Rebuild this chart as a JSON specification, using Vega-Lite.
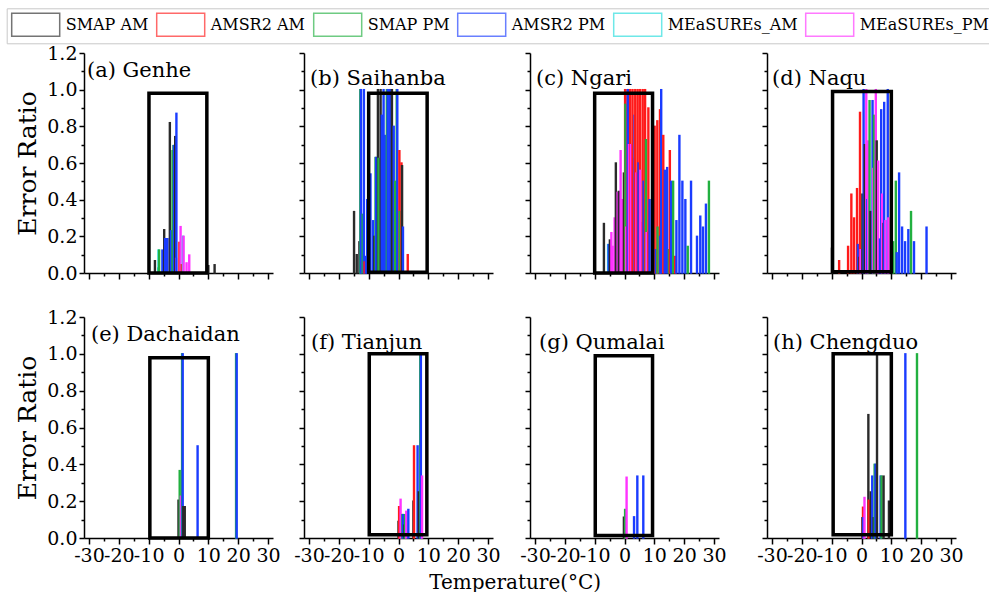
{
"$schema": "https://vega.github.io/schema/vega-lite/v6.json",
"padding": {"left": 6, "top": 7, "right": 0, "bottom": 0},
"datasets": {
"bars": [
{"panel":"a","temp":-7.9,"ratio":0.067,"series":"SMAP AM"},
{"panel":"a","temp":-6.8,"ratio":0.027,"series":"SMAP PM"},
{"panel":"a","temp":-6.7,"ratio":0.125,"series":"MEaSUREs_AM"},
{"panel":"a","temp":-6.5,"ratio":0.125,"series":"SMAP PM"},
{"panel":"a","temp":-5.4,"ratio":0.125,"series":"AMSR2 PM"},
{"panel":"a","temp":-4.8,"ratio":0.236,"series":"SMAP AM"},
{"panel":"a","temp":-4.5,"ratio":0.187,"series":"AMSR2 PM"},
{"panel":"a","temp":-4.1,"ratio":0.187,"series":"AMSR2 PM"},
{"panel":"a","temp":-3.7,"ratio":0.187,"series":"AMSR2 PM"},
{"panel":"a","temp":-2.9,"ratio":0.82,"series":"SMAP AM"},
{"panel":"a","temp":-2.5,"ratio":0.23,"series":"AMSR2 PM"},
{"panel":"a","temp":-2.0,"ratio":0.667,"series":"SMAP PM"},
{"panel":"a","temp":-1.7,"ratio":0.695,"series":"SMAP PM"},
{"panel":"a","temp":-1.5,"ratio":0.695,"series":"AMSR2 PM"},
{"panel":"a","temp":-1.1,"ratio":0.744,"series":"SMAP AM"},
{"panel":"a","temp":-0.8,"ratio":0.08,"series":"MEaSUREs_PM"},
{"panel":"a","temp":-0.7,"ratio":0.871,"series":"AMSR2 PM"},
{"panel":"a","temp":0.3,"ratio":0.167,"series":"AMSR2 AM"},
{"panel":"a","temp":0.7,"ratio":0.253,"series":"MEaSUREs_PM"},
{"panel":"a","temp":1.1,"ratio":0.045,"series":"AMSR2 AM"},
{"panel":"a","temp":1.5,"ratio":0.2,"series":"MEaSUREs_AM"},
{"panel":"a","temp":1.7,"ratio":0.2,"series":"MEaSUREs_PM"},
{"panel":"a","temp":2.7,"ratio":0.055,"series":"MEaSUREs_PM"},
{"panel":"a","temp":3.6,"ratio":0.098,"series":"MEaSUREs_PM"},
{"panel":"a","temp":10.0,"ratio":0.04,"series":"SMAP AM"},
{"panel":"a","temp":12.1,"ratio":0.045,"series":"SMAP AM"},
{"panel":"b","temp":-14.9,"ratio":0.335,"series":"SMAP AM"},
{"panel":"b","temp":-14.0,"ratio":0.1,"series":"SMAP AM"},
{"panel":"b","temp":-13.1,"ratio":0.17,"series":"SMAP AM"},
{"panel":"b","temp":-12.8,"ratio":1.0,"series":"SMAP PM"},
{"panel":"b","temp":-12.6,"ratio":1.0,"series":"AMSR2 PM"},
{"panel":"b","temp":-12.0,"ratio":0.32,"series":"SMAP PM"},
{"panel":"b","temp":-11.6,"ratio":1.0,"series":"AMSR2 PM"},
{"panel":"b","temp":-11.4,"ratio":0.06,"series":"AMSR2 AM"},
{"panel":"b","temp":-10.9,"ratio":0.09,"series":"AMSR2 PM"},
{"panel":"b","temp":-10.5,"ratio":0.4,"series":"AMSR2 PM"},
{"panel":"b","temp":-9.4,"ratio":0.54,"series":"AMSR2 PM"},
{"panel":"b","temp":-8.5,"ratio":0.285,"series":"AMSR2 PM"},
{"panel":"b","temp":-8.1,"ratio":0.2,"series":"SMAP AM"},
{"panel":"b","temp":-7.7,"ratio":0.63,"series":"SMAP PM"},
{"panel":"b","temp":-7.5,"ratio":0.63,"series":"AMSR2 PM"},
{"panel":"b","temp":-6.9,"ratio":1.0,"series":"SMAP AM"},
{"panel":"b","temp":-6.7,"ratio":0.625,"series":"SMAP PM"},
{"panel":"b","temp":-6.0,"ratio":1.0,"series":"SMAP AM"},
{"panel":"b","temp":-5.6,"ratio":0.86,"series":"AMSR2 PM"},
{"panel":"b","temp":-5.0,"ratio":1.0,"series":"AMSR2 PM"},
{"panel":"b","temp":-4.5,"ratio":0.75,"series":"AMSR2 PM"},
{"panel":"b","temp":-3.9,"ratio":1.0,"series":"SMAP PM"},
{"panel":"b","temp":-3.6,"ratio":1.0,"series":"AMSR2 PM"},
{"panel":"b","temp":-2.9,"ratio":1.0,"series":"AMSR2 PM"},
{"panel":"b","temp":-2.2,"ratio":1.0,"series":"SMAP AM"},
{"panel":"b","temp":-1.6,"ratio":0.8,"series":"AMSR2 PM"},
{"panel":"b","temp":-1.1,"ratio":0.5,"series":"SMAP PM"},
{"panel":"b","temp":-0.6,"ratio":1.0,"series":"SMAP PM"},
{"panel":"b","temp":-0.4,"ratio":1.0,"series":"AMSR2 PM"},
{"panel":"b","temp":0.3,"ratio":0.667,"series":"AMSR2 AM"},
{"panel":"b","temp":0.4,"ratio":0.335,"series":"SMAP PM"},
{"panel":"b","temp":1.0,"ratio":0.6,"series":"AMSR2 AM"},
{"panel":"b","temp":1.2,"ratio":0.585,"series":"SMAP AM"},
{"panel":"b","temp":1.5,"ratio":0.25,"series":"AMSR2 PM"},
{"panel":"b","temp":3.1,"ratio":0.1,"series":"AMSR2 AM"},
{"panel":"c","temp":-6.9,"ratio":0.27,"series":"SMAP AM"},
{"panel":"c","temp":-5.5,"ratio":0.155,"series":"MEaSUREs_AM"},
{"panel":"c","temp":-5.3,"ratio":0.155,"series":"AMSR2 PM"},
{"panel":"c","temp":-4.9,"ratio":0.18,"series":"SMAP AM"},
{"panel":"c","temp":-4.4,"ratio":0.22,"series":"MEaSUREs_PM"},
{"panel":"c","temp":-4.0,"ratio":0.145,"series":"MEaSUREs_PM"},
{"panel":"c","temp":-3.3,"ratio":0.3,"series":"MEaSUREs_PM"},
{"panel":"c","temp":-2.9,"ratio":0.6,"series":"SMAP AM"},
{"panel":"c","temp":-2.3,"ratio":0.44,"series":"MEaSUREs_PM"},
{"panel":"c","temp":-1.9,"ratio":0.445,"series":"SMAP AM"},
{"panel":"c","temp":-1.3,"ratio":0.667,"series":"MEaSUREs_PM"},
{"panel":"c","temp":-0.9,"ratio":0.4,"series":"MEaSUREs_PM"},
{"panel":"c","temp":-0.2,"ratio":0.545,"series":"SMAP AM"},
{"panel":"c","temp":0.2,"ratio":1.0,"series":"AMSR2 AM"},
{"panel":"c","temp":0.3,"ratio":0.92,"series":"SMAP PM"},
{"panel":"c","temp":0.6,"ratio":0.25,"series":"MEaSUREs_PM"},
{"panel":"c","temp":1.0,"ratio":1.0,"series":"AMSR2 AM"},
{"panel":"c","temp":1.1,"ratio":1.0,"series":"AMSR2 PM"},
{"panel":"c","temp":1.5,"ratio":0.7,"series":"MEaSUREs_PM"},
{"panel":"c","temp":1.9,"ratio":1.0,"series":"AMSR2 AM"},
{"panel":"c","temp":2.1,"ratio":0.7,"series":"MEaSUREs_PM"},
{"panel":"c","temp":2.6,"ratio":0.625,"series":"MEaSUREs_PM"},
{"panel":"c","temp":2.7,"ratio":1.0,"series":"AMSR2 AM"},
{"panel":"c","temp":3.4,"ratio":0.86,"series":"AMSR2 PM"},
{"panel":"c","temp":3.6,"ratio":1.0,"series":"AMSR2 AM"},
{"panel":"c","temp":4.0,"ratio":0.545,"series":"MEaSUREs_PM"},
{"panel":"c","temp":4.4,"ratio":1.0,"series":"AMSR2 AM"},
{"panel":"c","temp":4.7,"ratio":0.6,"series":"AMSR2 PM"},
{"panel":"c","temp":5.2,"ratio":1.0,"series":"AMSR2 AM"},
{"panel":"c","temp":5.3,"ratio":0.56,"series":"MEaSUREs_PM"},
{"panel":"c","temp":6.0,"ratio":0.275,"series":"MEaSUREs_PM"},
{"panel":"c","temp":6.1,"ratio":1.0,"series":"AMSR2 AM"},
{"panel":"c","temp":6.4,"ratio":0.5,"series":"AMSR2 PM"},
{"panel":"c","temp":6.9,"ratio":1.0,"series":"AMSR2 AM"},
{"panel":"c","temp":7.2,"ratio":0.727,"series":"SMAP PM"},
{"panel":"c","temp":7.4,"ratio":0.22,"series":"MEaSUREs_PM"},
{"panel":"c","temp":8.0,"ratio":0.9,"series":"AMSR2 AM"},
{"panel":"c","temp":8.4,"ratio":0.4,"series":"AMSR2 PM"},
{"panel":"c","temp":10.1,"ratio":0.8,"series":"AMSR2 AM"},
{"panel":"c","temp":10.5,"ratio":0.127,"series":"AMSR2 PM"},
{"panel":"c","temp":11.0,"ratio":0.83,"series":"AMSR2 AM"},
{"panel":"c","temp":11.1,"ratio":0.25,"series":"SMAP PM"},
{"panel":"c","temp":11.9,"ratio":0.89,"series":"AMSR2 AM"},
{"panel":"c","temp":12.0,"ratio":0.2,"series":"AMSR2 PM"},
{"panel":"c","temp":12.3,"ratio":1.0,"series":"AMSR2 PM"},
{"panel":"c","temp":13.0,"ratio":0.75,"series":"AMSR2 AM"},
{"panel":"c","temp":13.5,"ratio":0.56,"series":"AMSR2 PM"},
{"panel":"c","temp":14.3,"ratio":0.575,"series":"AMSR2 PM"},
{"panel":"c","temp":14.9,"ratio":0.127,"series":"SMAP PM"},
{"panel":"c","temp":15.2,"ratio":0.667,"series":"AMSR2 AM"},
{"panel":"c","temp":15.6,"ratio":0.5,"series":"AMSR2 PM"},
{"panel":"c","temp":16.3,"ratio":0.5,"series":"SMAP PM"},
{"panel":"c","temp":17.0,"ratio":0.09,"series":"AMSR2 AM"},
{"panel":"c","temp":17.4,"ratio":0.285,"series":"AMSR2 PM"},
{"panel":"c","temp":18.4,"ratio":0.75,"series":"AMSR2 PM"},
{"panel":"c","temp":19.4,"ratio":0.5,"series":"AMSR2 PM"},
{"panel":"c","temp":20.4,"ratio":0.4,"series":"AMSR2 PM"},
{"panel":"c","temp":21.2,"ratio":0.145,"series":"SMAP PM"},
{"panel":"c","temp":22.3,"ratio":0.5,"series":"AMSR2 PM"},
{"panel":"c","temp":24.3,"ratio":0.2,"series":"AMSR2 PM"},
{"panel":"c","temp":25.4,"ratio":0.31,"series":"AMSR2 PM"},
{"panel":"c","temp":26.3,"ratio":0.25,"series":"AMSR2 PM"},
{"panel":"c","temp":27.3,"ratio":0.375,"series":"AMSR2 PM"},
{"panel":"c","temp":28.3,"ratio":0.5,"series":"SMAP PM"},
{"panel":"d","temp":-9.9,"ratio":0.135,"series":"SMAP AM"},
{"panel":"d","temp":-7.5,"ratio":0.067,"series":"AMSR2 AM"},
{"panel":"d","temp":-4.5,"ratio":0.145,"series":"AMSR2 AM"},
{"panel":"d","temp":-3.4,"ratio":0.43,"series":"AMSR2 AM"},
{"panel":"d","temp":-2.5,"ratio":0.3,"series":"AMSR2 AM"},
{"panel":"d","temp":-1.5,"ratio":0.46,"series":"AMSR2 AM"},
{"panel":"d","temp":-1.2,"ratio":0.155,"series":"AMSR2 PM"},
{"panel":"d","temp":-0.7,"ratio":0.085,"series":"SMAP AM"},
{"panel":"d","temp":-0.5,"ratio":0.876,"series":"AMSR2 AM"},
{"panel":"d","temp":-0.3,"ratio":0.127,"series":"MEaSUREs_PM"},
{"panel":"d","temp":0.3,"ratio":0.43,"series":"SMAP AM"},
{"panel":"d","temp":0.7,"ratio":1.0,"series":"AMSR2 PM"},
{"panel":"d","temp":1.1,"ratio":0.7,"series":"SMAP AM"},
{"panel":"d","temp":1.6,"ratio":1.0,"series":"MEaSUREs_PM"},
{"panel":"d","temp":1.9,"ratio":0.4,"series":"AMSR2 PM"},
{"panel":"d","temp":2.2,"ratio":0.72,"series":"MEaSUREs_PM"},
{"panel":"d","temp":2.7,"ratio":0.94,"series":"SMAP PM"},
{"panel":"d","temp":3.0,"ratio":0.335,"series":"SMAP AM"},
{"panel":"d","temp":3.7,"ratio":0.94,"series":"AMSR2 PM"},
{"panel":"d","temp":3.9,"ratio":0.57,"series":"MEaSUREs_PM"},
{"panel":"d","temp":4.2,"ratio":0.86,"series":"SMAP PM"},
{"panel":"d","temp":4.4,"ratio":0.5,"series":"SMAP PM"},
{"panel":"d","temp":4.8,"ratio":1.0,"series":"MEaSUREs_PM"},
{"panel":"d","temp":5.1,"ratio":0.72,"series":"SMAP AM"},
{"panel":"d","temp":5.6,"ratio":0.61,"series":"MEaSUREs_PM"},
{"panel":"d","temp":6.2,"ratio":0.185,"series":"AMSR2 PM"},
{"panel":"d","temp":6.6,"ratio":0.89,"series":"AMSR2 PM"},
{"panel":"d","temp":6.9,"ratio":0.43,"series":"MEaSUREs_PM"},
{"panel":"d","temp":7.4,"ratio":0.27,"series":"SMAP AM"},
{"panel":"d","temp":7.6,"ratio":0.93,"series":"AMSR2 PM"},
{"panel":"d","temp":8.0,"ratio":0.285,"series":"MEaSUREs_PM"},
{"panel":"d","temp":8.8,"ratio":1.0,"series":"AMSR2 PM"},
{"panel":"d","temp":9.0,"ratio":0.3,"series":"MEaSUREs_PM"},
{"panel":"d","temp":10.6,"ratio":0.17,"series":"SMAP PM"},
{"panel":"d","temp":11.5,"ratio":0.5,"series":"SMAP PM"},
{"panel":"d","temp":11.8,"ratio":0.11,"series":"AMSR2 PM"},
{"panel":"d","temp":12.6,"ratio":0.545,"series":"AMSR2 PM"},
{"panel":"d","temp":13.6,"ratio":0.25,"series":"AMSR2 PM"},
{"panel":"d","temp":14.6,"ratio":0.17,"series":"AMSR2 PM"},
{"panel":"d","temp":15.7,"ratio":0.236,"series":"AMSR2 PM"},
{"panel":"d","temp":16.6,"ratio":0.335,"series":"SMAP PM"},
{"panel":"d","temp":17.6,"ratio":0.17,"series":"AMSR2 PM"},
{"panel":"d","temp":21.8,"ratio":0.25,"series":"AMSR2 PM"},
{"panel":"e","temp":0.0,"ratio":0.205,"series":"SMAP AM"},
{"panel":"e","temp":0.4,"ratio":0.366,"series":"SMAP PM"},
{"panel":"e","temp":0.8,"ratio":0.227,"series":"MEaSUREs_PM"},
{"panel":"e","temp":1.2,"ratio":1.0,"series":"SMAP PM"},
{"panel":"e","temp":1.4,"ratio":1.0,"series":"AMSR2 PM"},
{"panel":"e","temp":1.6,"ratio":0.17,"series":"SMAP AM"},
{"panel":"e","temp":2.1,"ratio":0.17,"series":"SMAP AM"},
{"panel":"e","temp":6.4,"ratio":0.5,"series":"AMSR2 PM"},
{"panel":"e","temp":19.3,"ratio":1.0,"series":"SMAP PM"},
{"panel":"e","temp":19.5,"ratio":1.0,"series":"AMSR2 PM"},
{"panel":"f","temp":0.0,"ratio":0.09,"series":"SMAP AM"},
{"panel":"f","temp":0.2,"ratio":0.17,"series":"AMSR2 AM"},
{"panel":"f","temp":0.7,"ratio":0.21,"series":"MEaSUREs_PM"},
{"panel":"f","temp":1.3,"ratio":0.127,"series":"SMAP PM"},
{"panel":"f","temp":1.5,"ratio":0.127,"series":"AMSR2 PM"},
{"panel":"f","temp":2.0,"ratio":0.07,"series":"SMAP AM"},
{"panel":"f","temp":2.2,"ratio":0.127,"series":"SMAP PM"},
{"panel":"f","temp":2.6,"ratio":0.145,"series":"MEaSUREs_PM"},
{"panel":"f","temp":3.3,"ratio":0.155,"series":"AMSR2 PM"},
{"panel":"f","temp":5.0,"ratio":0.2,"series":"SMAP AM"},
{"panel":"f","temp":5.2,"ratio":0.5,"series":"AMSR2 AM"},
{"panel":"f","temp":6.4,"ratio":0.5,"series":"AMSR2 PM"},
{"panel":"f","temp":6.8,"ratio":0.25,"series":"SMAP AM"},
{"panel":"f","temp":7.3,"ratio":1.0,"series":"SMAP PM"},
{"panel":"f","temp":7.5,"ratio":1.0,"series":"AMSR2 PM"},
{"panel":"f","temp":7.9,"ratio":0.336,"series":"MEaSUREs_PM"},
{"panel":"g","temp":-0.2,"ratio":0.113,"series":"SMAP AM"},
{"panel":"g","temp":0.2,"ratio":0.155,"series":"SMAP PM"},
{"panel":"g","temp":0.7,"ratio":0.33,"series":"MEaSUREs_PM"},
{"panel":"g","temp":3.2,"ratio":0.115,"series":"AMSR2 PM"},
{"panel":"g","temp":4.3,"ratio":0.336,"series":"AMSR2 PM"},
{"panel":"g","temp":6.3,"ratio":0.336,"series":"AMSR2 PM"},
{"panel":"h","temp":0.3,"ratio":0.11,"series":"SMAP AM"},
{"panel":"h","temp":0.5,"ratio":0.167,"series":"AMSR2 AM"},
{"panel":"h","temp":0.6,"ratio":0.11,"series":"AMSR2 PM"},
{"panel":"h","temp":1.0,"ratio":0.22,"series":"MEaSUREs_PM"},
{"panel":"h","temp":2.3,"ratio":0.67,"series":"SMAP AM"},
{"panel":"h","temp":2.4,"ratio":0.205,"series":"AMSR2 AM"},
{"panel":"h","temp":3.1,"ratio":0.25,"series":"SMAP AM"},
{"panel":"h","temp":3.6,"ratio":0.336,"series":"AMSR2 PM"},
{"panel":"h","temp":4.1,"ratio":0.11,"series":"SMAP AM"},
{"panel":"h","temp":4.4,"ratio":0.4,"series":"SMAP PM"},
{"panel":"h","temp":4.7,"ratio":0.4,"series":"AMSR2 PM"},
{"panel":"h","temp":5.2,"ratio":1.0,"series":"SMAP AM"},
{"panel":"h","temp":6.4,"ratio":0.336,"series":"AMSR2 PM"},
{"panel":"h","temp":6.7,"ratio":0.336,"series":"SMAP PM"},
{"panel":"h","temp":7.4,"ratio":0.336,"series":"SMAP AM"},
{"panel":"h","temp":9.2,"ratio":0.2,"series":"SMAP AM"},
{"panel":"h","temp":14.7,"ratio":1.0,"series":"AMSR2 PM"},
{"panel":"h","temp":18.6,"ratio":1.0,"series":"SMAP PM"}
],
"boxes": [
{"panel":"a","x1":-9.9,"x2":9.5,"y1":0,"y2":0.98},
{"panel":"b","x1":-10.0,"x2":9.6,"y1":0.004,"y2":0.98},
{"panel":"c","x1":-10.0,"x2":9.4,"y1":0,"y2":0.98},
{"panel":"d","x1":-9.7,"x2":10.0,"y1":0.007,"y2":0.99},
{"panel":"e","x1":-9.6,"x2":10.0,"y1":0,"y2":0.979},
{"panel":"f","x1":-9.8,"x2":9.5,"y1":0.018,"y2":1.0},
{"panel":"g","x1":-9.8,"x2":9.4,"y1":0.013,"y2":0.99},
{"panel":"h","x1":-9.5,"x2":10.0,"y1":0.018,"y2":1.0}
]
},
"columns": 4,
"align": "each",
"bounds": "flush",
"spacing": {"row": 44, "column": 31},
"concat": [
  {"width":189,"height":220,
   "title":{"text":"(a) Genhe","anchor":"start","frame":"group","offset":0,"dy":54,"dx":3,"baseline":"alphabetic"},
   "layer":[
    {"data":{"name":"bars"},"transform":[{"filter":"datum.panel === 'a'"}],
     "mark":{"type":"bar","size":1,"orient":"vertical","filled":false,"strokeWidth":1.4},
     "encoding":{
      "x":{"field":"temp","type":"quantitative","scale":{"domain":[-30,30],"range":[0,189],"nice":false,"zero":false},
        "axis":{"values":[-30,-25,-20,-15,-10,-5,0,5,10,15,20,25,30],"labels":false,"title":null,"tickSize":{"condition":{"test":"datum.value % 10 !== 0","value":3},"value":6}}},
      "y":{"field":"ratio","type":"quantitative","stack":null,"scale":{"domain":[0,1.2],"nice":false},
        "axis":{"values":[0,0.1,0.2,0.3,0.4,0.5,0.6,0.7,0.8,0.9,1,1.1,1.2],"labelExpr":"round(datum.value*10) % 2 === 0 ? format(datum.value, '.1f') : ''","title":"Error Ratio","titleX":-57,"titleY":110,"titleAngle":-90,"titleAlign":"center","titleBaseline":"middle","tickSize":{"condition":{"test":"round(datum.value*10) % 2 !== 0","value":3},"value":5}}},
      "color":{"field":"series","type":"nominal","scale":{"domain":["SMAP AM","AMSR2 AM","SMAP PM","AMSR2 PM","MEaSUREs_AM","MEaSUREs_PM"],"range":["#2a2a2a","#ff1a1a","#22b040","#1a3cff","#22dddd","#ff33ff"]},"legend":{"title":null}}
     }},
    {"data":{"name":"boxes"},"transform":[{"filter":"datum.panel === 'a'"}],
     "mark":{"type":"rect","fill":"transparent","stroke":"black","strokeWidth":3.5},
     "encoding":{
      "x":{"field":"x1","type":"quantitative","axis":{"values":[-30,-25,-20,-15,-10,-5,0,5,10,15,20,25,30],"labels":false,"title":null,"tickSize":{"condition":{"test":"datum.value % 10 !== 0","value":3},"value":6}}},
      "x2":{"field":"x2"},
      "y":{"field":"y1","type":"quantitative","axis":{"values":[0,0.1,0.2,0.3,0.4,0.5,0.6,0.7,0.8,0.9,1,1.1,1.2],"labelExpr":"round(datum.value*10) % 2 === 0 ? format(datum.value, '.1f') : ''","title":"Error Ratio","titleX":-57,"titleY":110,"titleAngle":-90,"titleAlign":"center","titleBaseline":"middle","tickSize":{"condition":{"test":"round(datum.value*10) % 2 !== 0","value":3},"value":5}}},
      "y2":{"field":"y2"}}}
   ]},
  {"width":195,"height":220,
   "title":{"text":"(b) Saihanba","anchor":"start","frame":"group","offset":0,"dy":54,"dx":6,"baseline":"alphabetic"},
   "layer":[
    {"data":{"name":"bars"},"transform":[{"filter":"datum.panel === 'b'"}],
     "mark":{"type":"bar","size":1,"orient":"vertical","filled":false,"strokeWidth":1.4},
     "encoding":{
      "x":{"field":"temp","type":"quantitative","scale":{"domain":[-30,30],"range":[0,189],"nice":false,"zero":false},
        "axis":{"values":[-30,-25,-20,-15,-10,-5,0,5,10,15,20,25,30],"labels":false,"title":null,"tickSize":{"condition":{"test":"datum.value % 10 !== 0","value":3},"value":6}}},
      "y":{"field":"ratio","type":"quantitative","stack":null,"scale":{"domain":[0,1.2],"nice":false},
        "axis":{"values":[0,0.1,0.2,0.3,0.4,0.5,0.6,0.7,0.8,0.9,1,1.1,1.2],"labels":false,"title":null,"tickSize":{"condition":{"test":"round(datum.value*10) % 2 !== 0","value":3},"value":5}}},
      "color":{"field":"series","type":"nominal","scale":{"domain":["SMAP AM","AMSR2 AM","SMAP PM","AMSR2 PM","MEaSUREs_AM","MEaSUREs_PM"],"range":["#2a2a2a","#ff1a1a","#22b040","#1a3cff","#22dddd","#ff33ff"]},"legend":{"title":null}}
     }},
    {"data":{"name":"boxes"},"transform":[{"filter":"datum.panel === 'b'"}],
     "mark":{"type":"rect","fill":"transparent","stroke":"black","strokeWidth":3.5},
     "encoding":{
      "x":{"field":"x1","type":"quantitative","axis":{"values":[-30,-25,-20,-15,-10,-5,0,5,10,15,20,25,30],"labels":false,"title":null,"tickSize":{"condition":{"test":"datum.value % 10 !== 0","value":3},"value":6}}},
      "x2":{"field":"x2"},
      "y":{"field":"y1","type":"quantitative","axis":{"values":[0,0.1,0.2,0.3,0.4,0.5,0.6,0.7,0.8,0.9,1,1.1,1.2],"labels":false,"title":null,"tickSize":{"condition":{"test":"round(datum.value*10) % 2 !== 0","value":3},"value":5}}},
      "y2":{"field":"y2"}}}
   ]},
  {"width":205.7,"height":220,
   "title":{"text":"(c) Ngari","anchor":"start","frame":"group","offset":0,"dy":54,"dx":6,"baseline":"alphabetic"},
   "layer":[
    {"data":{"name":"bars"},"transform":[{"filter":"datum.panel === 'c'"}],
     "mark":{"type":"bar","size":1,"orient":"vertical","filled":false,"strokeWidth":1.4},
     "encoding":{
      "x":{"field":"temp","type":"quantitative","scale":{"domain":[-30,30],"range":[0,189],"nice":false,"zero":false},
        "axis":{"values":[-30,-25,-20,-15,-10,-5,0,5,10,15,20,25,30],"labels":false,"title":null,"tickSize":{"condition":{"test":"datum.value % 10 !== 0","value":3},"value":6}}},
      "y":{"field":"ratio","type":"quantitative","stack":null,"scale":{"domain":[0,1.2],"nice":false},
        "axis":{"values":[0,0.1,0.2,0.3,0.4,0.5,0.6,0.7,0.8,0.9,1,1.1,1.2],"labels":false,"title":null,"tickSize":{"condition":{"test":"round(datum.value*10) % 2 !== 0","value":3},"value":5}}},
      "color":{"field":"series","type":"nominal","scale":{"domain":["SMAP AM","AMSR2 AM","SMAP PM","AMSR2 PM","MEaSUREs_AM","MEaSUREs_PM"],"range":["#2a2a2a","#ff1a1a","#22b040","#1a3cff","#22dddd","#ff33ff"]},"legend":{"title":null}}
     }},
    {"data":{"name":"boxes"},"transform":[{"filter":"datum.panel === 'c'"}],
     "mark":{"type":"rect","fill":"transparent","stroke":"black","strokeWidth":3.5},
     "encoding":{
      "x":{"field":"x1","type":"quantitative","axis":{"values":[-30,-25,-20,-15,-10,-5,0,5,10,15,20,25,30],"labels":false,"title":null,"tickSize":{"condition":{"test":"datum.value % 10 !== 0","value":3},"value":6}}},
      "x2":{"field":"x2"},
      "y":{"field":"y1","type":"quantitative","axis":{"values":[0,0.1,0.2,0.3,0.4,0.5,0.6,0.7,0.8,0.9,1,1.1,1.2],"labels":false,"title":null,"tickSize":{"condition":{"test":"round(datum.value*10) % 2 !== 0","value":3},"value":5}}},
      "y2":{"field":"y2"}}}
   ]},
  {"width":189,"height":220,
   "title":{"text":"(d) Naqu","anchor":"start","frame":"group","offset":0,"dy":54,"dx":5,"baseline":"alphabetic"},
   "layer":[
    {"data":{"name":"bars"},"transform":[{"filter":"datum.panel === 'd'"}],
     "mark":{"type":"bar","size":1,"orient":"vertical","filled":false,"strokeWidth":1.4},
     "encoding":{
      "x":{"field":"temp","type":"quantitative","scale":{"domain":[-30,30],"range":[0,189],"nice":false,"zero":false},
        "axis":{"values":[-30,-25,-20,-15,-10,-5,0,5,10,15,20,25,30],"labels":false,"title":null,"tickSize":{"condition":{"test":"datum.value % 10 !== 0","value":3},"value":6}}},
      "y":{"field":"ratio","type":"quantitative","stack":null,"scale":{"domain":[0,1.2],"nice":false},
        "axis":{"values":[0,0.1,0.2,0.3,0.4,0.5,0.6,0.7,0.8,0.9,1,1.1,1.2],"labels":false,"title":null,"tickSize":{"condition":{"test":"round(datum.value*10) % 2 !== 0","value":3},"value":5}}},
      "color":{"field":"series","type":"nominal","scale":{"domain":["SMAP AM","AMSR2 AM","SMAP PM","AMSR2 PM","MEaSUREs_AM","MEaSUREs_PM"],"range":["#2a2a2a","#ff1a1a","#22b040","#1a3cff","#22dddd","#ff33ff"]},"legend":{"title":null}}
     }},
    {"data":{"name":"boxes"},"transform":[{"filter":"datum.panel === 'd'"}],
     "mark":{"type":"rect","fill":"transparent","stroke":"black","strokeWidth":3.5},
     "encoding":{
      "x":{"field":"x1","type":"quantitative","axis":{"values":[-30,-25,-20,-15,-10,-5,0,5,10,15,20,25,30],"labels":false,"title":null,"tickSize":{"condition":{"test":"datum.value % 10 !== 0","value":3},"value":6}}},
      "x2":{"field":"x2"},
      "y":{"field":"y1","type":"quantitative","axis":{"values":[0,0.1,0.2,0.3,0.4,0.5,0.6,0.7,0.8,0.9,1,1.1,1.2],"labels":false,"title":null,"tickSize":{"condition":{"test":"round(datum.value*10) % 2 !== 0","value":3},"value":5}}},
      "y2":{"field":"y2"}}}
   ]},
  {"width":189,"height":221,
   "title":{"text":"(e) Dachaidan","anchor":"start","frame":"group","offset":0,"dy":54,"dx":7,"baseline":"alphabetic"},
   "layer":[
    {"data":{"name":"bars"},"transform":[{"filter":"datum.panel === 'e'"}],
     "mark":{"type":"bar","size":1,"orient":"vertical","filled":false,"strokeWidth":1.4},
     "encoding":{
      "x":{"field":"temp","type":"quantitative","scale":{"domain":[-30,30],"range":[0,189],"nice":false,"zero":false},
        "axis":{"values":[-30,-25,-20,-15,-10,-5,0,5,10,15,20,25,30],"labelExpr":"datum.value % 10 === 0 ? (datum.value < 0 ? '-' + (-datum.value) : '' + datum.value) : ''","title":null,"tickSize":{"condition":{"test":"datum.value % 10 !== 0","value":3},"value":6}}},
      "y":{"field":"ratio","type":"quantitative","stack":null,"scale":{"domain":[0,1.2],"nice":false},
        "axis":{"values":[0,0.1,0.2,0.3,0.4,0.5,0.6,0.7,0.8,0.9,1,1.1,1.2],"labelExpr":"round(datum.value*10) % 2 === 0 ? format(datum.value, '.1f') : ''","title":"Error Ratio","titleX":-57,"titleY":110.5,"titleAngle":-90,"titleAlign":"center","titleBaseline":"middle","tickSize":{"condition":{"test":"round(datum.value*10) % 2 !== 0","value":3},"value":5}}},
      "color":{"field":"series","type":"nominal","scale":{"domain":["SMAP AM","AMSR2 AM","SMAP PM","AMSR2 PM","MEaSUREs_AM","MEaSUREs_PM"],"range":["#2a2a2a","#ff1a1a","#22b040","#1a3cff","#22dddd","#ff33ff"]},"legend":{"title":null}}
     }},
    {"data":{"name":"boxes"},"transform":[{"filter":"datum.panel === 'e'"}],
     "mark":{"type":"rect","fill":"transparent","stroke":"black","strokeWidth":3.5},
     "encoding":{
      "x":{"field":"x1","type":"quantitative","axis":{"values":[-30,-25,-20,-15,-10,-5,0,5,10,15,20,25,30],"labelExpr":"datum.value % 10 === 0 ? (datum.value < 0 ? '-' + (-datum.value) : '' + datum.value) : ''","title":null,"tickSize":{"condition":{"test":"datum.value % 10 !== 0","value":3},"value":6}}},
      "x2":{"field":"x2"},
      "y":{"field":"y1","type":"quantitative","axis":{"values":[0,0.1,0.2,0.3,0.4,0.5,0.6,0.7,0.8,0.9,1,1.1,1.2],"labelExpr":"round(datum.value*10) % 2 === 0 ? format(datum.value, '.1f') : ''","title":"Error Ratio","titleX":-57,"titleY":110.5,"titleAngle":-90,"titleAlign":"center","titleBaseline":"middle","tickSize":{"condition":{"test":"round(datum.value*10) % 2 !== 0","value":3},"value":5}}},
      "y2":{"field":"y2"}}}
   ]},
  {"width":195,"height":221,
   "title":{"text":"(f) Tianjun","anchor":"start","frame":"group","offset":0,"dy":54,"dx":7,"baseline":"alphabetic"},
   "layer":[
    {"data":{"name":"bars"},"transform":[{"filter":"datum.panel === 'f'"}],
     "mark":{"type":"bar","size":1,"orient":"vertical","filled":false,"strokeWidth":1.4},
     "encoding":{
      "x":{"field":"temp","type":"quantitative","scale":{"domain":[-30,30],"range":[0,189],"nice":false,"zero":false},
        "axis":{"values":[-30,-25,-20,-15,-10,-5,0,5,10,15,20,25,30],"labelExpr":"datum.value % 10 === 0 ? (datum.value < 0 ? '-' + (-datum.value) : '' + datum.value) : ''","title":"Temperature(°C)","titleFontSize":20,"titleX":210.7,"titleY":50,"titleAlign":"center","titleBaseline":"alphabetic","tickSize":{"condition":{"test":"datum.value % 10 !== 0","value":3},"value":6}}},
      "y":{"field":"ratio","type":"quantitative","stack":null,"scale":{"domain":[0,1.2],"nice":false},
        "axis":{"values":[0,0.1,0.2,0.3,0.4,0.5,0.6,0.7,0.8,0.9,1,1.1,1.2],"labels":false,"title":null,"tickSize":{"condition":{"test":"round(datum.value*10) % 2 !== 0","value":3},"value":5}}},
      "color":{"field":"series","type":"nominal","scale":{"domain":["SMAP AM","AMSR2 AM","SMAP PM","AMSR2 PM","MEaSUREs_AM","MEaSUREs_PM"],"range":["#2a2a2a","#ff1a1a","#22b040","#1a3cff","#22dddd","#ff33ff"]},"legend":{"title":null}}
     }},
    {"data":{"name":"boxes"},"transform":[{"filter":"datum.panel === 'f'"}],
     "mark":{"type":"rect","fill":"transparent","stroke":"black","strokeWidth":3.5},
     "encoding":{
      "x":{"field":"x1","type":"quantitative","axis":{"values":[-30,-25,-20,-15,-10,-5,0,5,10,15,20,25,30],"labelExpr":"datum.value % 10 === 0 ? (datum.value < 0 ? '-' + (-datum.value) : '' + datum.value) : ''","title":"Temperature(°C)","titleFontSize":20,"titleX":210.7,"titleY":50,"titleAlign":"center","titleBaseline":"alphabetic","tickSize":{"condition":{"test":"datum.value % 10 !== 0","value":3},"value":6}}},
      "x2":{"field":"x2"},
      "y":{"field":"y1","type":"quantitative","axis":{"values":[0,0.1,0.2,0.3,0.4,0.5,0.6,0.7,0.8,0.9,1,1.1,1.2],"labels":false,"title":null,"tickSize":{"condition":{"test":"round(datum.value*10) % 2 !== 0","value":3},"value":5}}},
      "y2":{"field":"y2"}}}
   ]},
  {"width":205.7,"height":221,
   "title":{"text":"(g) Qumalai","anchor":"start","frame":"group","offset":0,"dy":54,"dx":9,"baseline":"alphabetic"},
   "layer":[
    {"data":{"name":"bars"},"transform":[{"filter":"datum.panel === 'g'"}],
     "mark":{"type":"bar","size":1,"orient":"vertical","filled":false,"strokeWidth":1.4},
     "encoding":{
      "x":{"field":"temp","type":"quantitative","scale":{"domain":[-30,30],"range":[0,189],"nice":false,"zero":false},
        "axis":{"values":[-30,-25,-20,-15,-10,-5,0,5,10,15,20,25,30],"labelExpr":"datum.value % 10 === 0 ? (datum.value < 0 ? '-' + (-datum.value) : '' + datum.value) : ''","title":null,"tickSize":{"condition":{"test":"datum.value % 10 !== 0","value":3},"value":6}}},
      "y":{"field":"ratio","type":"quantitative","stack":null,"scale":{"domain":[0,1.2],"nice":false},
        "axis":{"values":[0,0.1,0.2,0.3,0.4,0.5,0.6,0.7,0.8,0.9,1,1.1,1.2],"labels":false,"title":null,"tickSize":{"condition":{"test":"round(datum.value*10) % 2 !== 0","value":3},"value":5}}},
      "color":{"field":"series","type":"nominal","scale":{"domain":["SMAP AM","AMSR2 AM","SMAP PM","AMSR2 PM","MEaSUREs_AM","MEaSUREs_PM"],"range":["#2a2a2a","#ff1a1a","#22b040","#1a3cff","#22dddd","#ff33ff"]},"legend":{"title":null}}
     }},
    {"data":{"name":"boxes"},"transform":[{"filter":"datum.panel === 'g'"}],
     "mark":{"type":"rect","fill":"transparent","stroke":"black","strokeWidth":3.5},
     "encoding":{
      "x":{"field":"x1","type":"quantitative","axis":{"values":[-30,-25,-20,-15,-10,-5,0,5,10,15,20,25,30],"labelExpr":"datum.value % 10 === 0 ? (datum.value < 0 ? '-' + (-datum.value) : '' + datum.value) : ''","title":null,"tickSize":{"condition":{"test":"datum.value % 10 !== 0","value":3},"value":6}}},
      "x2":{"field":"x2"},
      "y":{"field":"y1","type":"quantitative","axis":{"values":[0,0.1,0.2,0.3,0.4,0.5,0.6,0.7,0.8,0.9,1,1.1,1.2],"labels":false,"title":null,"tickSize":{"condition":{"test":"round(datum.value*10) % 2 !== 0","value":3},"value":5}}},
      "y2":{"field":"y2"}}}
   ]},
  {"width":189,"height":221,
   "title":{"text":"(h) Chengduo","anchor":"start","frame":"group","offset":0,"dy":54,"dx":6,"baseline":"alphabetic"},
   "layer":[
    {"data":{"name":"bars"},"transform":[{"filter":"datum.panel === 'h'"}],
     "mark":{"type":"bar","size":1,"orient":"vertical","filled":false,"strokeWidth":1.4},
     "encoding":{
      "x":{"field":"temp","type":"quantitative","scale":{"domain":[-30,30],"range":[0,189],"nice":false,"zero":false},
        "axis":{"values":[-30,-25,-20,-15,-10,-5,0,5,10,15,20,25,30],"labelExpr":"datum.value % 10 === 0 ? (datum.value < 0 ? '-' + (-datum.value) : '' + datum.value) : ''","title":null,"tickSize":{"condition":{"test":"datum.value % 10 !== 0","value":3},"value":6}}},
      "y":{"field":"ratio","type":"quantitative","stack":null,"scale":{"domain":[0,1.2],"nice":false},
        "axis":{"values":[0,0.1,0.2,0.3,0.4,0.5,0.6,0.7,0.8,0.9,1,1.1,1.2],"labels":false,"title":null,"tickSize":{"condition":{"test":"round(datum.value*10) % 2 !== 0","value":3},"value":5}}},
      "color":{"field":"series","type":"nominal","scale":{"domain":["SMAP AM","AMSR2 AM","SMAP PM","AMSR2 PM","MEaSUREs_AM","MEaSUREs_PM"],"range":["#2a2a2a","#ff1a1a","#22b040","#1a3cff","#22dddd","#ff33ff"]},"legend":{"title":null}}
     }},
    {"data":{"name":"boxes"},"transform":[{"filter":"datum.panel === 'h'"}],
     "mark":{"type":"rect","fill":"transparent","stroke":"black","strokeWidth":3.5},
     "encoding":{
      "x":{"field":"x1","type":"quantitative","axis":{"values":[-30,-25,-20,-15,-10,-5,0,5,10,15,20,25,30],"labelExpr":"datum.value % 10 === 0 ? (datum.value < 0 ? '-' + (-datum.value) : '' + datum.value) : ''","title":null,"tickSize":{"condition":{"test":"datum.value % 10 !== 0","value":3},"value":6}}},
      "x2":{"field":"x2"},
      "y":{"field":"y1","type":"quantitative","axis":{"values":[0,0.1,0.2,0.3,0.4,0.5,0.6,0.7,0.8,0.9,1,1.1,1.2],"labels":false,"title":null,"tickSize":{"condition":{"test":"round(datum.value*10) % 2 !== 0","value":3},"value":5}}},
      "y2":{"field":"y2"}}}
   ]}
],
"config": {
 "font": "DejaVu Serif",
 "view": {"stroke": null},
 "axis": {"domainColor":"black","domainWidth":1.5,"tickColor":"black","tickWidth":1.5,"grid":false,"labelFont":"DejaVu Serif","labelFontSize":19,"labelColor":"black","labelOverlap":false,"labelFlush":false,"labelBound":false,"labelPadding":2,"titleFont":"DejaVu Serif","titleFontWeight":"normal","titleColor":"black","titleFontSize":25},
 "title": {"font":"DejaVu Serif","fontSize":21,"fontWeight":"normal","color":"black"},
 "legend": {"orient":"none","legendX":-77.3,"legendY":-44.7,"direction":"horizontal","symbolType":"M-1,-1H3.174V1H-1Z","symbolSize":529,"symbolStrokeWidth":1.5,"symbolOpacity":0.65,"labelFont":"DejaVu Serif","labelFontSize":16,"labelColor":"black","labelOffset":30,"columnPadding":5,"padding":4,"strokeColor":"#c8c8c8","labelLimit":300}
}
}
